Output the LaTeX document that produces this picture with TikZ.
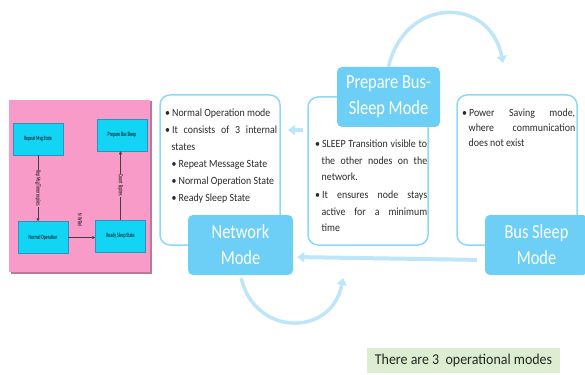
\documentclass[tikz,border=0pt]{standalone}
\usepackage{fontspec}
\setmainfont{Carlito}
\newfontfamily\bodyfont[FakeStretch=0.9]{Carlito}
\newfontfamily\titlefont[FakeStretch=0.82]{Carlito}
\newfontfamily\tinyfont[FakeStretch=0.6]{Carlito}
\newfontfamily\capfont[FakeStretch=0.93]{Carlito}
\usetikzlibrary{arrows.meta}

\definecolor{modeblue}{HTML}{6DCFF6}
\definecolor{edgeblue}{HTML}{8DD8F8}
\definecolor{flowblue}{HTML}{BEE5F8}
\definecolor{pinkbg}{HTML}{F99BC8}
\definecolor{pinkshadow}{HTML}{B97A98}
\definecolor{stateblue}{HTML}{12D5F5}
\definecolor{stateedge}{HTML}{2B93C0}
\definecolor{notegreen}{HTML}{DCEDD2}
\definecolor{bodytext}{HTML}{2A2A2A}

% compact bullet list used inside the note boxes
\newenvironment{blist}{\begin{list}{\textbullet}{%
  \setlength\leftmargin{6.5pt}\setlength\labelwidth{4.5pt}\setlength\labelsep{2pt}%
  \setlength\itemsep{0pt}\setlength\parsep{0pt}\setlength\topsep{0pt}%
  \setlength\partopsep{0pt}}}{\end{list}}

\begin{document}
\hyphenpenalty=10000
\exhyphenpenalty=10000
\begin{tikzpicture}[x=1pt,y=-1pt,
  modebox/.style={fill=modeblue, rounded corners=5pt, text=white, align=center,
    inner sep=0pt, minimum width=103pt, minimum height=60pt,
    font=\titlefont\fontsize{20}{26}\selectfont},
  notebox/.style={draw=edgeblue, line width=1.5pt, rounded corners=10pt,
    minimum width=120pt, minimum height=150pt, inner sep=0pt},
  notetext/.style={anchor=north west, inner sep=0pt, text=bodytext, align=justify,
    font=\bodyfont\fontsize{11}{17}\selectfont},
  flow/.style={draw=flowblue, line width=3.5pt, -{Triangle[width=10pt,length=7pt]}},
  state/.style={fill=stateblue, draw=stateedge, line width=0.5pt, minimum width=50pt,
    minimum height=32pt, inner sep=1pt, font=\tinyfont\fontsize{6.5}{7}\selectfont},
  trans/.style={draw=black!75, line width=0.6pt, -{Triangle[width=3pt,length=3pt]}},
  translabel/.style={inner sep=0.5pt, rotate=-90, font=\tinyfont\fontsize{6.5}{7}\selectfont}]

\useasboundingbox (0,0) rectangle (585,374);
\clip (0,0) rectangle (585,374);

% ---- NM state machine panel ----
\fill[pinkshadow] (10.5,101.5) rectangle (151.5,273.5);
\fill[pinkbg] (9,100) rectangle (150,272);

\node[state] (rep)   at (38,139)    {Repeat Msg State};
\node[state] (pbs)   at (122,135)   {Prepare Bus Sleep};
\node[state] (norm)  at (43,237.5)  {Normal Operation};
\node[state] (ready) at (120.5,236) {Ready Sleep State};

\draw[trans] (rep.south) -- (rep.south |- norm.north)
  node[translabel, fill=pinkbg, pos=0.5] (l1) {Rep Msg Timer expires};
\draw[trans] (norm.east) -- (norm.east -| ready.west);
\node[translabel] (l2) at (80,220) {N W Rel};
\draw[trans] (ready.north) -- (ready.north |- pbs.south)
  node[translabel, fill=pinkbg, pos=0.5] (l3) {Count Expires};

% ---- note boxes ----
\node[notebox] (netnote) at (220,170) {};
\node[notebox, minimum height=148pt] (prepnote) at (368,171) {};
\node[notebox] (busnote) at (517,170) {};

\node[notetext, text width=112pt] (nettext) at (165,99) {%
  \begin{blist}
  \item Normal Operation mode
  \item It consists of 3 internal states
    \begin{blist}
    \item Repeat Message State
    \item Normal Operation State
    \item Ready Sleep State
    \end{blist}
  \end{blist}};

\node[notetext, text width=112pt, font=\bodyfont\fontsize{11}{16.5}\selectfont]
  (preptext) at (315,131) {%
  \begin{blist}
  \setlength\itemsep{1.5pt}
  \item SLEEP Transition visible to the other nodes on the network.
  \item It ensures node stays active for a minimum\linebreak time
  \end{blist}};

\node[notetext, text width=113pt, font=\bodyfont\fontsize{11}{15}\selectfont]
  (bustext) at (462,101) {%
  \begin{blist}
  \item Power Saving mode, where communication does not exist
  \end{blist}};

% ---- mode boxes ----
\node[modebox, minimum width=105pt] (netmode) at (240.5,245) {Network\\Mode};
\node[modebox] (prepmode) at (388.5,97) {Prepare Bus-\\Sleep Mode};
\node[modebox] (busmode) at (536.5,245) {Bus Sleep\\Mode};

% ---- transitions between modes ----
\coordinate (topEnd) at (503,63);
\coordinate (backTail) at (303,130);
\coordinate (backHead) at (288,130);
\coordinate (loopEnd) at (343,278);

\draw[flow] (prepmode.north) .. controls (405,-4) and (490,-4) .. (topEnd);
\draw[flow, line width=4pt] (backTail) -- (backHead);
\draw[flow, line width=4pt, shorten <=8pt, shorten >=4pt]
  ([yshift=-15pt]busmode.west) -- ([yshift=-12pt]netmode.east);
\draw[flow, shorten <=3pt] (netmode.south) .. controls (255,337) and (332,337) .. (loopEnd);

% ---- caption ----
\node[fill=notegreen, minimum width=193pt, minimum height=25pt, inner sep=0pt,
  text=black!85, font=\capfont\fontsize{15}{18}\selectfont] (caption) at (463.5,360.5)
  {There are 3\ \ operational modes};

\end{tikzpicture}
\end{document}
